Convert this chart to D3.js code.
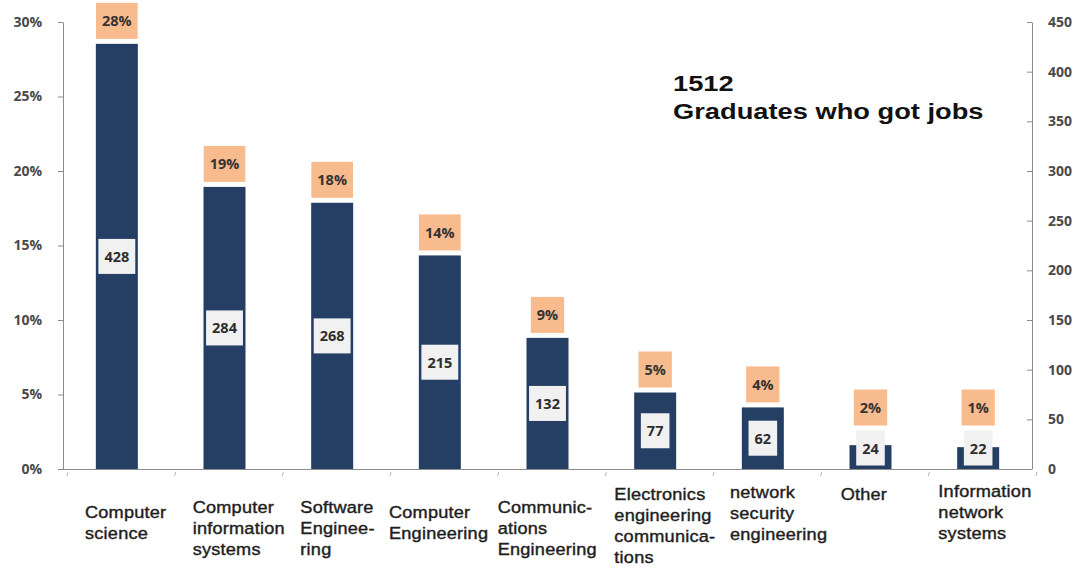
<!DOCTYPE html>
<html>
<head>
<meta charset="utf-8">
<script src="https://cdn.jsdelivr.net/npm/d3@7"></script>
<style>
  html, body { margin: 0; padding: 0; background: #ffffff; }
  svg { display: block; }
</style>
</head>
<body>
<svg id="chart" width="1086" height="569"></svg>
<script>
// Majors of graduates who got jobs
const categories = [
  "Computer science",
  "Computer information systems",
  "Software Engineering",
  "Computer Engineering",
  "Communications Engineering",
  "Electronics engineering communications",
  "network security engineering",
  "Other",
  "Information network systems"
];
// Wrapped category label lines
const categoryLines = [
  ["Computer", "science"],
  ["Computer", "information", "systems"],
  ["Software", "Enginee-", "ring"],
  ["Computer", "Engineering"],
  ["Communic-", "ations", "Engineering"],
  ["Electronics", "engineering", "communica-", "tions"],
  ["network", "security", "engineering"],
  ["Other"],
  ["Information", "network", "systems"]
];
// Number of graduates per major
const graduates = [428, 284, 268, 215, 132, 77, 62, 24, 22];
// Share of all graduates (percent)
const shares = [28, 19, 18, 14, 9, 5, 4, 2, 1];
const totalGraduates = 1512;
const titleLines = [String(totalGraduates), "Graduates who got jobs"];

const pctTicks = [0, 0.05, 0.10, 0.15, 0.20, 0.25, 0.30];
const countTicks = [0, 50, 100, 150, 200, 250, 300, 350, 400, 450];

// label placement: [x offset from slot start, first baseline y]
const labelPlacement = [
  [22, 518], [22, 513], [22, 513], [3, 518], [4, 513],
  [13, 500], [21, 498], [24, 500], [14, 497]
];

const svg = d3.select("#chart");
const plotLeft = 63, plotRight = 1032, plotTop = 22, plotBase = 469;

const x = d3.scaleBand()
  .domain(categories)
  .range([plotLeft, plotRight])
  .paddingInner(0.61)
  .paddingOuter(0.305);

const yCount = d3.scaleLinear().domain([0, 450]).range([plotBase, plotTop]);
const yPct = d3.scaleLinear().domain([0, 0.30]).range([plotBase, plotTop]);

const navy = "#243f63";
const orange = "#f8bb8d";
const boxGrey = "#f1f1f1";
const axisGrey = "#8c8c8c";

function styleTicks(g) {
  g.select(".domain").attr("stroke", axisGrey);
  g.selectAll(".tick line").attr("stroke", axisGrey);
  g.selectAll(".tick text")
    .attr("font-family", "'Open Sans', sans-serif")
    .attr("font-weight", "bold")
    .attr("font-size", 14)
    .attr("fill", "#4a4a4a");
}

// left percentage axis
const gl = svg.append("g")
  .attr("transform", `translate(${plotLeft},0)`)
  .call(d3.axisLeft(yPct).tickValues(pctTicks).tickFormat(d3.format(".0%"))
    .tickSizeInner(5).tickSizeOuter(0).tickPadding(16));
styleTicks(gl);

// right count axis
const gr = svg.append("g")
  .attr("transform", `translate(${plotRight},0)`)
  .call(d3.axisRight(yCount).tickValues(countTicks)
    .tickSizeInner(-5).tickSizeOuter(0).tickPadding(16));
styleTicks(gr);

// baseline and slot separators
svg.append("line")
  .attr("x1", plotLeft).attr("x2", plotRight)
  .attr("y1", plotBase + 0.5).attr("y2", plotBase + 0.5)
  .attr("stroke", axisGrey).attr("stroke-width", 1.2);
const step = x.step();
const slotStart = d => x(d) - step * x.paddingInner() / 2;
svg.append("g").selectAll("line")
  .data(d3.range(categories.length + 1))
  .join("line")
  .attr("x1", i => plotLeft + i * step + 5).attr("x2", i => plotLeft + i * step + 4)
  .attr("y1", plotBase + 3).attr("y2", plotBase + 7)
  .attr("stroke", "#b5b5b5").attr("stroke-width", 1);

// bars
const rows = categories.map((c, i) => ({
  cat: c, n: graduates[i], pct: shares[i], lines: categoryLines[i], place: labelPlacement[i]
}));

svg.append("g").selectAll("rect")
  .data(rows)
  .join("rect")
  .attr("x", d => x(d.cat))
  .attr("width", x.bandwidth())
  .attr("y", d => yCount(d.n))
  .attr("height", d => plotBase - yCount(d.n))
  .attr("fill", navy);

// count labels inside bars
const labelFont = "'Open Sans', sans-serif";
const countH = 35;
const countG = svg.append("g");
rows.forEach(d => {
  const cx = x(d.cat) + x.bandwidth() / 2;
  const cy = Math.min((yCount(d.n) + plotBase) / 2, plotBase - countH / 2 - 3.5);
  const g = countG.append("g");
  const t = g.append("text")
    .attr("x", cx).attr("y", cy)
    .attr("text-anchor", "middle").attr("dominant-baseline", "central")
    .attr("font-family", labelFont).attr("font-size", 14.5).attr("font-weight", "bold")
    .attr("fill", "#2e2e2e")
    .text(d.n);
  const w = t.node().getComputedTextLength() + 12;
  g.insert("rect", "text")
    .attr("x", cx - w / 2).attr("y", cy - countH / 2)
    .attr("width", w).attr("height", countH)
    .attr("fill", boxGrey);
  d.countTop = cy - countH / 2;
});

// percentage labels above bars
const pctH = 36;
const pctG = svg.append("g");
rows.forEach(d => {
  const cx = x(d.cat) + x.bandwidth() / 2;
  const bottom = Math.min(yCount(d.n), d.countTop) - 5;
  const cy = bottom - pctH / 2;
  const g = pctG.append("g");
  const t = g.append("text")
    .attr("x", cx).attr("y", cy)
    .attr("text-anchor", "middle").attr("dominant-baseline", "central")
    .attr("font-family", labelFont).attr("font-size", 14.5).attr("font-weight", "bold")
    .attr("fill", "#333")
    .text(d.pct + "%");
  const w = t.node().getComputedTextLength() + 12;
  g.insert("rect", "text")
    .attr("x", cx - w / 2).attr("y", cy - pctH / 2)
    .attr("width", w).attr("height", pctH)
    .attr("fill", orange);
});

// category labels (slightly widened type)
const lineH = 21;
svg.append("g").selectAll("g")
  .data(rows)
  .join("g")
  .attr("transform", d => `translate(${slotStart(d.cat) + d.place[0]},0) scale(1.1,1)`)
  .append("text")
  .attr("font-family", "'Liberation Sans', Arial, sans-serif")
  .attr("font-size", 16.5)
  .attr("letter-spacing", 0.2)
  .attr("fill", "#1e1e1e")
  .attr("stroke", "#1e1e1e")
  .attr("stroke-width", 0.4)
  .each(function(d) {
    d3.select(this).selectAll("tspan")
      .data(d.lines)
      .join("tspan")
      .attr("x", 0)
      .attr("y", (l, j) => d.place[1] + j * lineH)
      .text(l => l);
  });

// headline (widened type)
svg.append("g")
  .attr("transform", "translate(673,0) scale(1.24,1)")
  .selectAll("text")
  .data(titleLines)
  .join("text")
  .attr("x", 0)
  .attr("y", (d, i) => 91 + i * 28)
  .attr("font-family", "'Liberation Sans', Arial, sans-serif")
  .attr("font-weight", "bold")
  .attr("font-size", 22)
  .attr("fill", "#111")
  .text(d => d);
</script>
</body>
</html>
